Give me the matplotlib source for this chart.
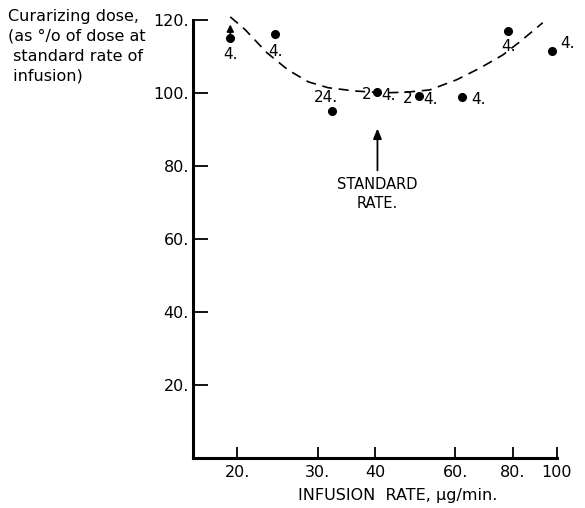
import matplotlib
matplotlib.use("Agg")
import matplotlib.pyplot as plt
import numpy as np

# measured points (infusion rate, % of dose at standard rate)
rate = [19.3, 24.2, 32.2, 40.5, 49.9, 62.0, 78.2, 97.5]
dose = [115.0, 116.0, 95.0, 100.3, 99.2, 98.9, 117.0, 111.5]
point_labels = ["4.", "4.", "24.", "2 4.", "2 4.", "4.", "4.", "4."]
label_offsets = [(0, -12), (0, -12), (-4, 10), (0, 0), (0, 0), (12, -2), (0, -11), (11, 5)]

# dashed curve
curve_x = [19.3, 20.8, 23.2, 25.8, 28.6, 31.6, 36.2, 42.0, 47.0, 52.7, 60.4, 67.9, 76.2, 83.0, 93.1]
curve_y = [120.8, 117.3, 111.0, 106.3, 103.0, 101.4, 100.5, 100.0, 100.2, 100.8, 103.6, 106.8, 110.4, 114.0, 119.2]

xticks = [20, 30, 40, 60, 80, 100]
xticklabels = ["20.", "30.", "40", "60.", "80.", "100"]
yticks = [20, 40, 60, 80, 100, 120]
yticklabels = ["20.", "40.", "60.", "80.", "100.", "120."]

fig = plt.figure(figsize=(5.85, 5.08), dpi=100)
ax = fig.add_axes([0.33, 0.0984, 0.952 - 0.33, 0.961 - 0.0984])

ax.set_xscale("log")
ax.set_xlim(16.0, 100)
ax.set_ylim(0, 120)

ax.plot(curve_x, curve_y, color="black", lw=1.2, dashes=(6, 4), clip_on=False)
ax.plot(rate, dose, "o", color="black", ms=5.5, clip_on=False)

# labels next to points
for i in range(len(rate)):
    lab = point_labels[i]
    dx, dy = label_offsets[i]
    if lab.startswith("2 "):
        ax.annotate("2", (rate[i], dose[i]), xytext=(-8, -2), textcoords="offset points",
                    ha="center", va="center", fontsize=11)
        ax.annotate("4.", (rate[i], dose[i]), xytext=(8, -3), textcoords="offset points",
                    ha="center", va="center", fontsize=11)
    else:
        ax.annotate(lab, (rate[i], dose[i]), xytext=(dx, dy), textcoords="offset points",
                    ha="center", va="center", fontsize=11, annotation_clip=False)

# first point is a lower bound
ax.annotate("", xy=(rate[0], 119.5), xytext=(rate[0], dose[0]),
            arrowprops=dict(arrowstyle="-|>,head_width=0.2,head_length=0.4", color="black", lw=1.3),
            annotation_clip=False)

# standard rate arrow
ax.annotate("", xy=(40.5, 91), xytext=(40.5, 78),
            arrowprops=dict(arrowstyle="-|>,head_width=0.25,head_length=0.6", color="black", lw=1.3))
ax.text(40.5, 72.3, "STANDARD\nRATE.", ha="center", va="center", fontsize=10.5, linespacing=1.3)

ax.spines["top"].set_visible(False)
ax.spines["right"].set_visible(False)
ax.spines["left"].set_linewidth(2.2)
ax.spines["bottom"].set_linewidth(2.2)

ax.minorticks_off()
ax.set_xticks(xticks)
ax.set_xticklabels(xticklabels, fontsize=11.5)
ax.set_yticks(yticks)
ax.set_yticklabels(yticklabels, fontsize=11.5)
ax.tick_params(axis="x", direction="in", length=8, width=1.3, pad=5)
ax.tick_params(axis="y", direction="in", length=11, width=1.3, pad=3)

fig.text(0.68, 0.025, "INFUSION  RATE, µg/min.", ha="center", va="center", fontsize=11.5)
fig.text(0.014, 0.982, "Curarizing dose,\n(as °/o of dose at\n standard rate of\n infusion)",
         ha="left", va="top", fontsize=11.5, linespacing=1.4)

plt.savefig("out.png", dpi=100)
